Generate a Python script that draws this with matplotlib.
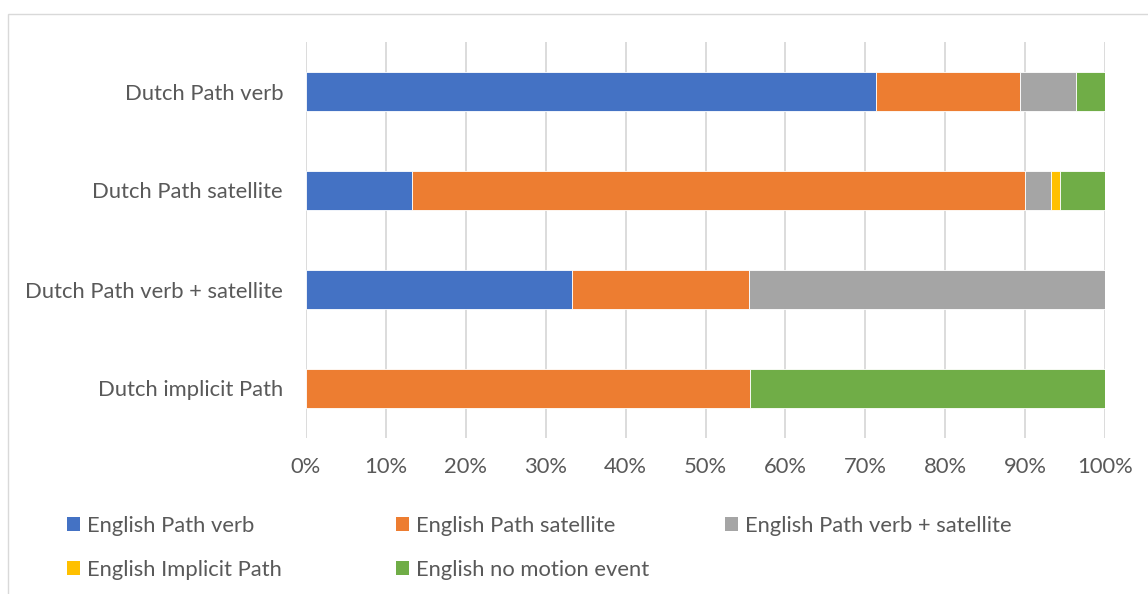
import matplotlib
matplotlib.use("Agg")
import matplotlib.pyplot as plt
from matplotlib.patches import Patch, Rectangle
from matplotlib.ticker import PercentFormatter

plt.rcParams['font.family'] = ['Lato', 'DejaVu Sans']

categories = ["Dutch Path verb", "Dutch Path satellite",
              "Dutch Path verb + satellite", "Dutch implicit Path"]
series_names = ["English Path verb", "English Path satellite",
                "English Path verb + satellite", "English Implicit Path",
                "English no motion event"]
path_verb = [71.4, 13.3, 33.3, 0.0]
path_satellite = [17.9, 76.7, 22.2, 55.6]
verb_satellite = [7.1, 3.3, 44.5, 0.0]
implicit_path = [0.0, 1.1, 0.0, 0.0]
no_motion = [3.6, 5.6, 0.0, 44.4]
colors = ["#4472C4", "#ED7D31", "#A5A5A5", "#FFC000", "#70AD47"]

text_col = "#595959"
fs = 15.8

fig = plt.figure(figsize=(11.48, 5.94), dpi=100)
ax = fig.add_axes([306 / 1148, 1 - 438 / 594, 799 / 1148, 396 / 594])

# chart area border
fig.patches.append(Rectangle((8 / 1148, -0.1), 1.2, 1 - 14 / 594 + 0.1,
                             transform=fig.transFigure, fill=False,
                             edgecolor="#D9D9D9", linewidth=1.0))

y = list(range(len(categories)))
left = [0.0] * len(categories)
for vals, name, c in zip([path_verb, path_satellite, verb_satellite, implicit_path, no_motion],
                         series_names, colors):
    ax.barh(y, vals, left=left, height=0.4, color=c, edgecolor="white",
            linewidth=0.6, label=name, zorder=3)
    left = [l + v for l, v in zip(left, vals)]

ax.set_xlim(0, 100)
ax.set_ylim(3.5, -0.5)
ax.set_xticks(range(0, 101, 10))
ax.xaxis.set_major_formatter(PercentFormatter(decimals=0))
ax.set_yticks(y)
ax.set_yticklabels(categories)
ax.grid(axis="x", color="#D9D9D9", linewidth=1.3, zorder=0)
ax.tick_params(length=0, labelsize=fs, labelcolor=text_col)
ax.tick_params(axis="x", pad=14)
ax.tick_params(axis="y", pad=16.5)
for s in ax.spines.values():
    s.set_visible(False)

handles = [Patch(facecolor=c) for c in colors]
cols = [[0, 3], [1, 4], [2]]
xs = [67, 396, 725]
for idx, x0 in zip(cols, xs):
    leg = fig.legend([handles[i] for i in idx], [series_names[i] for i in idx],
                     loc="upper left", bbox_to_anchor=(x0 / 1148, 1 - 516 / 594),
                     frameon=False, fontsize=fs, labelcolor=text_col,
                     handlelength=0.6, handleheight=0.6, handletextpad=0.3,
                     labelspacing=1.08, borderpad=0, borderaxespad=0)

fig.savefig("out.png", dpi=100)
